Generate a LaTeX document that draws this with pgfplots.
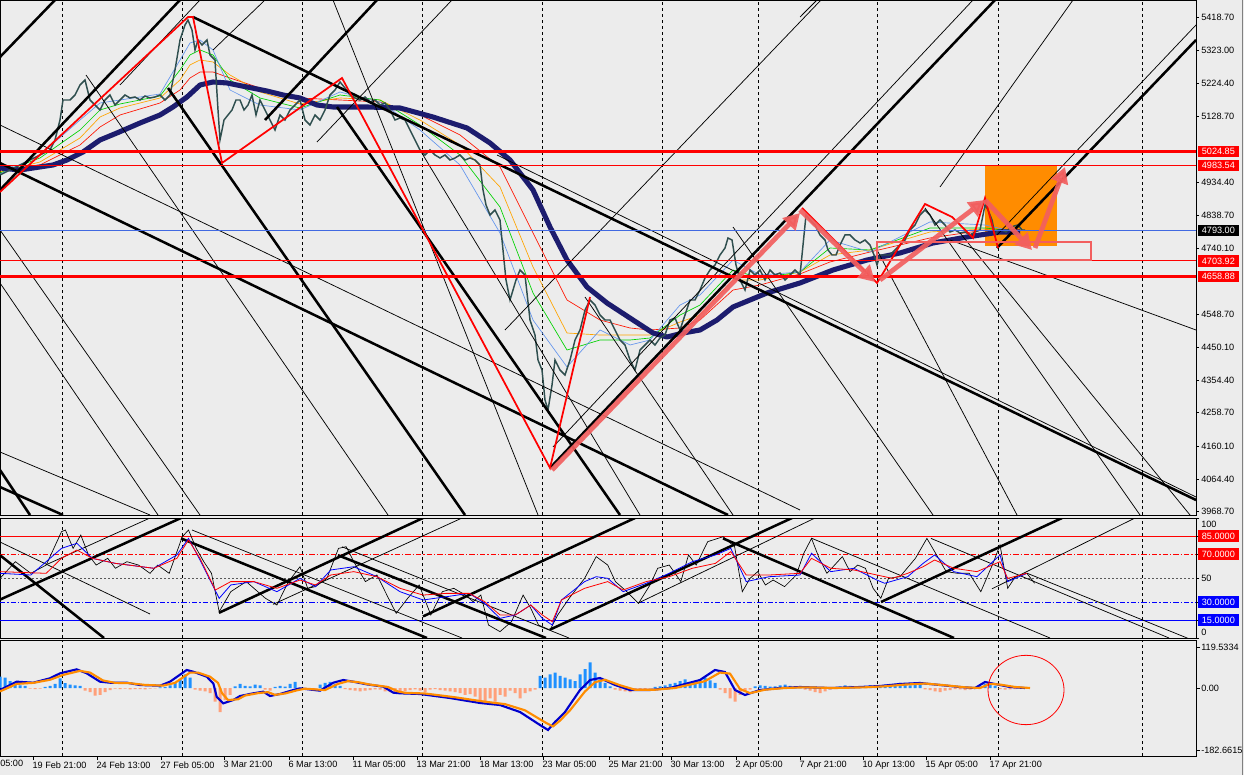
\documentclass[border=0pt]{standalone}
\usepackage{pgfplots}
\pgfplotsset{compat=1.18}
\usepackage{fontspec}
\setmainfont{Liberation Sans}
\usetikzlibrary{arrows.meta}
\definecolor{bg}{RGB}{236,236,236}
\definecolor{navy}{RGB}{28,28,110}
\definecolor{salm}{RGB}{242,95,95}
\definecolor{orng}{RGB}{255,140,0}
\definecolor{rbred}{RGB}{255,20,0}
\definecolor{rborange}{RGB}{255,165,0}
\definecolor{rbgreen}{RGB}{0,210,0}
\definecolor{rbblue}{RGB}{100,149,237}
\definecolor{pricec}{RGB}{47,79,79}
\definecolor{hline}{RGB}{65,105,225}
\definecolor{histp}{RGB}{30,144,255}
\definecolor{histn}{RGB}{255,160,122}
\definecolor{macdb}{RGB}{0,0,205}
\newcommand\lab{\fontsize{6.85}{8}\selectfont}
\tikzset{
  lbox/.style={anchor=west, fill=#1, text=white, font=\lab, inner xsep=3pt, inner ysep=1.2pt, minimum height=8.5pt, xshift=1.2pt},
  lplain/.style={anchor=west, text=black, font=\lab, inner xsep=0pt, inner ysep=0pt, xshift=3.75pt},
}
\pgfplotsset{
  thk/.style={black, line width=1.9pt, forget plot},
  thn/.style={black, line width=0.55pt, forget plot},
  grd/.style={black, line width=0.6pt, dash pattern=on 2.25pt off 2.25pt, forget plot},
  panel/.style={scale only axis, width=897pt, xmin=0, xmax=1196,
    axis background/.style={fill=bg}, clip mode=individual,
    axis line style={line width=0.7pt}, xtick=\empty,
    ytick pos=right, tick align=outside, major tick length=2.25pt,
    yticklabels={}, tick style={black, line width=0.5pt}},
}
\begin{document}
\lab
\begin{tikzpicture}
\fill[bg] (0,0) rectangle (933pt,581.25pt);
\useasboundingbox (0,0) rectangle (933pt,581.25pt);
\draw[gray, line width=0.6pt] (931.5pt,0) -- (931.5pt,581.25pt);
% ================= MAIN PRICE PANEL =================
\begin{axis}[panel, at={(0pt,581.25pt)}, anchor=north west, height=386.25pt,
  ymin=3958.9, ymax=5469.4,
  ytick={5418.70,5323.00,5224.40,5128.70,4934.40,4838.70,4740.10,4548.70,4450.10,4354.40,4258.70,4160.10,4064.40,3968.70}]
\pgfplotsinvokeforeach{62,182,302,422,542,662,758,877,998,1142}{\addplot[grd] coordinates {(#1,3958.9)(#1,5469.4)};}
% orange box
\addplot[fill=orng, draw=none, forget plot] coordinates {(985,4985.5)(1057,4985.5)(1057,4747.9)(985,4747.9)} -- cycle;
% MA ribbon
\addplot[rbred, line width=0.5pt, forget plot] coordinates {(0,4970.8)(40,4985.5)(80,5044.1)(100,5096.9)(120,5132.1)(160,5167.3)(180,5205.4)(190,5240.6)(200,5258.2)(213,5258.2)(230,5240.6)(260,5211.3)(300,5182.0)(340,5176.1)(380,5170.2)(420,5132.1)(460,5073.5)(500,4979.6)(533,4786.0)(567,4589.5)(600,4530.8)(630,4507.4)(650,4501.5)(680,4507.4)(700,4530.8)(733,4618.8)(760,4633.5)(800,4665.8)(830,4701.0)(870,4730.3)(930,4771.4)(985,4794.8)(1020,4794.8)};
\addplot[rborange, line width=0.5pt, forget plot] coordinates {(0,4964.9)(40,4994.3)(80,5064.7)(100,5126.2)(120,5152.6)(160,5182.0)(180,5234.8)(190,5278.8)(200,5293.4)(213,5287.6)(230,5249.4)(260,5199.6)(300,5164.4)(340,5182.0)(380,5176.1)(420,5117.4)(460,5044.1)(500,4921.0)(533,4686.3)(567,4492.7)(600,4486.8)(630,4486.8)(650,4486.8)(680,4524.8)(700,4545.5)(733,4648.2)(760,4648.2)(800,4671.6)(830,4721.5)(870,4736.2)(930,4789.0)(985,4797.8)(1020,4791.9)};
\addplot[rbgreen, line width=0.5pt, forget plot] coordinates {(0,4962.0)(40,5006.0)(80,5088.1)(100,5146.8)(120,5164.4)(160,5187.8)(180,5264.1)(190,5308.1)(200,5322.8)(213,5308.1)(230,5234.8)(260,5182.0)(300,5152.6)(340,5190.8)(380,5176.1)(420,5102.8)(460,5014.8)(500,4862.3)(533,4610.1)(567,4442.8)(600,4472.2)(630,4472.2)(650,4478.0)(680,4545.5)(700,4574.8)(733,4677.5)(760,4654.1)(800,4671.6)(830,4742.0)(870,4736.2)(930,4800.7)(985,4800.7)(1020,4789.0)};
\addplot[rbblue, line width=0.5pt, forget plot] coordinates {(0,4959.1)(40,5014.8)(80,5117.4)(100,5167.3)(120,5176.1)(160,5193.7)(180,5293.4)(190,5343.3)(200,5352.1)(213,5322.8)(230,5205.4)(260,5161.4)(300,5146.8)(340,5199.6)(380,5170.2)(420,5088.1)(460,4985.5)(500,4786.0)(533,4530.8)(567,4393.0)(600,4501.5)(630,4457.5)(650,4472.2)(680,4574.8)(700,4604.2)(733,4706.8)(760,4662.8)(800,4671.6)(830,4765.5)(870,4730.3)(930,4818.3)(985,4809.5)(1020,4786.0)};
% navy MA
\addplot[navy, line width=3.8pt, line join=round, forget plot] coordinates {(0,4976.7)(20,4970.8)(53,4985.5)(67,5000.1)(83,5023.6)(100,5058.8)(117,5079.4)(140,5108.6)(160,5132.1)(173,5155.6)(187,5184.9)(200,5220.1)(213,5228.9)(227,5226.0)(247,5214.2)(267,5202.5)(283,5190.8)(300,5182.0)(317,5161.4)(333,5155.6)(367,5155.6)(400,5152.6)(433,5126.2)(467,5094.0)(490,5050.0)(510,5000.1)(533,4912.2)(550,4803.6)(567,4706.8)(587,4627.6)(607,4580.7)(633,4530.8)(653,4492.7)(667,4481.0)(683,4492.7)(700,4501.5)(717,4530.8)(733,4569.0)(750,4589.5)(767,4610.1)(800,4639.4)(833,4677.5)(867,4706.8)(900,4727.4)(933,4756.7)(967,4774.3)(1000,4789.0)(1020,4789.0)};
% price
\addplot[pricec, line width=1.1pt, forget plot] coordinates {(0,4956.2)(10,4970.8)(20,4985.5)(30,5000.1)(40,5014.8)(50,5029.5)(55,5058.8)(60,5117.4)(63,5176.1)(70,5176.1)(75,5190.8)(80,5220.1)(85,5234.8)(90,5176.1)(95,5161.4)(100,5146.8)(105,5176.1)(110,5190.8)(115,5161.4)(120,5176.1)(125,5190.8)(130,5182.0)(135,5184.9)(140,5176.1)(145,5187.8)(150,5182.0)(155,5184.9)(160,5190.8)(165,5176.1)(170,5190.8)(175,5264.1)(180,5352.1)(185,5396.1)(188,5410.7)(192,5381.4)(195,5322.8)(198,5352.1)(202,5337.4)(207,5352.1)(210,5308.1)(215,5293.4)(218,5146.8)(220,5058.8)(224,5117.4)(228,5132.1)(232,5146.8)(236,5176.1)(240,5176.1)(244,5146.8)(248,5161.4)(252,5190.8)(256,5132.1)(260,5176.1)(265,5146.8)(270,5117.4)(275,5088.1)(280,5132.1)(285,5117.4)(290,5146.8)(295,5161.4)(300,5176.1)(305,5117.4)(310,5102.8)(315,5132.1)(320,5117.4)(325,5146.8)(330,5190.8)(335,5205.4)(340,5228.9)(345,5211.3)(350,5190.8)(355,5182.0)(360,5176.1)(365,5184.9)(370,5170.2)(375,5176.1)(380,5161.4)(385,5167.3)(390,5146.8)(395,5117.4)(400,5123.3)(405,5117.4)(410,5088.1)(415,5058.8)(420,5029.5)(425,5014.8)(430,5029.5)(435,5014.8)(440,5006.0)(445,5014.8)(450,5000.1)(455,5006.0)(460,5014.8)(465,5000.1)(470,5006.0)(475,5000.1)(480,4985.5)(483,4912.2)(486,4868.2)(490,4838.8)(495,4853.5)(500,4824.1)(503,4736.2)(506,4648.2)(510,4589.5)(513,4618.8)(516,4648.2)(520,4677.5)(525,4662.8)(530,4530.8)(535,4486.8)(538,4413.5)(542,4384.1)(545,4296.2)(548,4266.9)(552,4340.1)(555,4413.5)(560,4384.1)(565,4369.5)(570,4413.5)(575,4472.2)(580,4501.5)(585,4560.2)(590,4589.5)(595,4574.8)(600,4545.5)(605,4530.8)(610,4530.8)(615,4501.5)(620,4472.2)(625,4457.5)(630,4413.5)(635,4384.1)(640,4442.8)(645,4457.5)(650,4472.2)(655,4457.5)(660,4478.0)(665,4486.8)(670,4530.8)(675,4536.7)(680,4501.5)(685,4545.5)(690,4589.5)(695,4589.5)(700,4618.8)(705,4654.1)(710,4677.5)(715,4692.2)(720,4721.5)(725,4742.0)(728,4771.4)(732,4765.5)(736,4692.2)(740,4648.2)(745,4618.8)(750,4677.5)(755,4662.8)(760,4677.5)(765,4648.2)(770,4677.5)(775,4662.8)(780,4668.7)(785,4648.2)(790,4662.8)(795,4677.5)(800,4662.8)(803,4750.8)(806,4838.8)(810,4824.1)(815,4809.5)(820,4780.2)(825,4765.5)(828,4736.2)(832,4721.5)(836,4721.5)(840,4750.8)(845,4780.2)(850,4780.2)(855,4765.5)(860,4756.7)(865,4765.5)(870,4750.8)(874,4721.5)(877,4692.2)(880,4721.5)(885,4721.5)(890,4721.5)(895,4736.2)(900,4750.8)(905,4765.5)(910,4794.8)(915,4809.5)(920,4838.8)(925,4853.5)(930,4838.8)(935,4809.5)(940,4824.1)(945,4809.5)(950,4789.0)(955,4794.8)(960,4786.0)(965,4789.0)(970,4780.2)(975,4789.0)(980,4794.8)(985,4868.2)(988,4853.5)(992,4824.1)(995,4780.2)(998,4794.8)(1002,4794.8)(1006,4789.0)(1010,4800.7)(1014,4806.5)(1018,4809.5)(1022,4794.8)(1025,4794.8)};
% thick black trend lines
\addplot[thk] coordinates {(0,5302.2)(55,5469.4)};
\addplot[thk] coordinates {(0,4912.2)(180,5469.4)};
\addplot[thk] coordinates {(265,5117.4)(377,5469.4)};
\addplot[thk] coordinates {(193,5419.5)(1196,4002.9)};
\addplot[thk] coordinates {(0,4991.3)(728,3958.9)};
\addplot[thk] coordinates {(168,5211.3)(465,3958.9)};
\addplot[thk] coordinates {(337,5155.6)(620,3958.9)};
\addplot[thk] coordinates {(550,4096.8)(995,5469.4)};
\addplot[thk] coordinates {(997,4742.0)(1196,5352.1)};
\addplot[thk] coordinates {(0,4090.9)(30,3958.9)};
\addplot[thk] coordinates {(0,4041.0)(63,3958.9)};
% thin black lines
\addplot[thn] coordinates {(800,5419.5)(817,5469.4)};
\addplot[thn] coordinates {(553,4158.4)(973,5469.4)};
\addplot[thn] coordinates {(505,4501.5)(821,5469.4)};
\addplot[thn] coordinates {(317,5052.9)(452,5469.4)};
\addplot[thn] coordinates {(213,5322.8)(265,5469.4)};
\addplot[thn] coordinates {(120,5220.1)(200,5469.4)};
\addplot[thn] coordinates {(940,4921.0)(1073,5469.4)};
\addplot[thn] coordinates {(997,4780.2)(1196,5396.1)};
\addplot[thn] coordinates {(0,5102.8)(800,3973.6)};
\addplot[thn] coordinates {(0,4794.8)(200,3958.9)};
\addplot[thn] coordinates {(0,4639.4)(158,3958.9)};
\addplot[thn] coordinates {(0,4143.7)(150,3958.9)};
\addplot[thn] coordinates {(86,5249.4)(388,3958.9)};
\addplot[thn] coordinates {(333,5469.4)(538,3958.9)};
\addplot[thn] coordinates {(733,4803.6)(933,3958.9)};
\addplot[thn] coordinates {(925,4859.5)(1140,3958.9)};
\addplot[thn] coordinates {(950,4765.5)(1196,4501.5)};
\addplot[thn] coordinates {(960,4786.0)(1190,3958.9)};
\addplot[thn] coordinates {(877,4736.2)(1017,3958.9)};
\addplot[thn] coordinates {(497,5014.8)(1196,4011.7)};
\addplot[thn] coordinates {(585,4598.3)(733,3958.9)};
\addplot[thn] coordinates {(420,5029.5)(640,3958.9)};
% horizontal levels
\addplot[red, line width=1.9pt, forget plot] coordinates {(0,5024.85)(1196,5024.85)};
\addplot[red, line width=0.75pt, forget plot] coordinates {(0,4983.54)(1196,4983.54)};
\addplot[hline, line width=0.6pt, forget plot] coordinates {(0,4793.00)(1196,4793.00)};
\addplot[red, line width=0.75pt, forget plot] coordinates {(0,4703.92)(1196,4703.92)};
\addplot[red, line width=1.9pt, forget plot] coordinates {(0,4658.88)(1196,4658.88)};
% zigzag
\addplot[red, line width=1.3pt, forget plot] coordinates {(0,4906.3)(188,5419.5)(193,5419.5)(222,4991.3)(342,5240.6)(550,4096.8)(590,4598.3)};
\addplot[red, line width=1.3pt, forget plot] coordinates {(802,4859.5)(877,4639.4)(925,4871.1)(952,4833.0)(973,4771.4)(985,4888.7)(998,4742.0)};
% salmon box
\addplot[salm, line width=1.5pt, forget plot] coordinates {(877,4759.6)(1091,4759.6)(1091,4706.8)(877,4706.8)} -- cycle;
% arrows
\addplot[salm, opacity=0.92, line width=3.6pt, -{Triangle[length=12pt,width=13pt]}, forget plot] coordinates {(552,4090.9)(800,4844.7)};
\addplot[salm, opacity=0.92, line width=3.6pt, -{Triangle[length=12pt,width=13pt]}, forget plot] coordinates {(800,4853.5)(875,4642.3)};
\addplot[salm, opacity=0.92, line width=3.6pt, -{Triangle[length=12pt,width=13pt]}, forget plot] coordinates {(880,4648.2)(985,4882.8)};
\addplot[salm, opacity=0.92, line width=3.6pt, -{Triangle[length=12pt,width=13pt]}, forget plot] coordinates {(985,4882.8)(1032,4736.2)};
\addplot[salm, opacity=0.92, line width=3.6pt, -{Triangle[length=12pt,width=13pt]}, forget plot] coordinates {(1035,4742.0)(1065,4979.6)};
% right labels
\pgfplotsinvokeforeach{5418.70,5323.00,5224.40,5128.70,4934.40,4838.70,4740.10,4548.70,4450.10,4354.40,4258.70,4160.10,4064.40,3968.70}{\node[lplain] at (axis cs:1196,#1) {#1};}
\node[lbox=red] at (axis cs:1196,5024.85) {5024.85};
\node[lbox=red] at (axis cs:1196,4983.54) {4983.54};
\node[lbox=black] at (axis cs:1196,4793.00) {4793.00};
\node[lbox=red] at (axis cs:1196,4703.92) {4703.92};
\node[lbox=red] at (axis cs:1196,4658.88) {4658.88};
\end{axis}
% ================= OSCILLATOR PANEL =================
\begin{axis}[panel, at={(0pt,192.75pt)}, anchor=north west, height=90pt,
  ymin=0, ymax=100, ytick={0,15,30,50,70,85,100}]
\pgfplotsinvokeforeach{62,182,302,422,542,662,758,877,998,1142}{\addplot[grd] coordinates {(#1,0)(#1,100)};}
\addplot[red, line width=0.75pt, forget plot] coordinates {(0,85)(1196,85)};
\addplot[red, line width=0.75pt, dash pattern=on 4pt off 1.5pt on 1pt off 1.5pt, forget plot] coordinates {(0,70)(1196,70)};
\addplot[gray!70!black, line width=0.6pt, dash pattern=on 1.5pt off 1.5pt, forget plot] coordinates {(0,50)(1196,50)};
\addplot[blue, line width=0.75pt, dash pattern=on 4pt off 1.5pt on 1pt off 1.5pt, forget plot] coordinates {(0,30)(1196,30)};
\addplot[blue, line width=0.75pt, forget plot] coordinates {(0,15)(1196,15)};
% trend lines
\addplot[thk] coordinates {(0,69)(104,0)};
\addplot[thk] coordinates {(181,83)(427,0)};
\addplot[thk] coordinates {(338,69)(546,0)};
\addplot[thk] coordinates {(723,83)(954,0)};
\addplot[thk] coordinates {(0,32)(181,100)};
\addplot[thk] coordinates {(219,21)(423,100)};
\addplot[thk] coordinates {(423,18)(635,100)};
\addplot[thk] coordinates {(550,7)(792,100)};
\addplot[thk] coordinates {(881,30)(1062,100)};
\addplot[thn] coordinates {(192,90)(462,0)};
\addplot[thn] coordinates {(342,76)(569,0)};
\addplot[thn] coordinates {(812,83)(1050,0)};
\addplot[thn] coordinates {(931,83)(1169,0)};
\addplot[thn] coordinates {(1027,54)(1196,-3)};
\addplot[thn] coordinates {(0,80)(150,20)};
\addplot[thn] coordinates {(46,61)(150,100)};
\addplot[thn] coordinates {(273,28)(462,100)};
\addplot[thn] coordinates {(638,29)(815,100)};
\addplot[thn] coordinates {(992,41)(1135,100)};
% oscillator lines
\addplot[black, line width=0.5pt, forget plot] coordinates {(0,49.7)(15.4,63.6)(30.8,53.9)(46.2,60.8)(61.5,88.6)(65.4,90)(73.1,74.7)(80.8,85.8)(88.5,69.2)(96.2,60.8)(107.7,66.4)(115.4,58.1)(126.9,63.6)(138.5,60.8)(150,53.9)(157.7,60.8)(169.2,53.9)(182.3,84.4)(188.5,90)(196.2,74.7)(203.8,63.6)(211.5,53.9)(219.2,21.9)(230.8,38.6)(246.2,47)(265.4,33.1)(276.9,27.5)(288.5,47)(300,59.4)(307.7,41.4)(315.4,42.8)(326.9,49.7)(338.5,74.7)(346.2,76.1)(353.8,63.6)(365.4,47)(376.9,52.5)(388.5,33.1)(396.2,20.6)(407.7,33.1)(419.2,44.2)(430.8,19.2)(442.3,38.6)(453.8,41.4)(465.4,35.8)(473.1,30.3)(480.8,35.8)(488.5,10.8)(500,5.3)(511.5,13.6)(523.1,35.8)(530.8,24.7)(538.5,10.8)(550,6.7)(557.7,19.2)(569.2,33.1)(584.6,49.7)(596.2,67.8)(607.7,60.8)(615.4,47)(626.9,38.6)(638.5,28.9)(650,44.2)(657.7,58.1)(669.2,60.8)(680.8,47)(688.5,69.2)(696.2,60.8)(707.7,80.3)(723.1,84.4)(734.6,76.1)(742.3,38.6)(750,49.7)(757.7,55.3)(765.4,44.2)(773.1,48.3)(784.6,42.8)(796.2,52.5)(803.8,70.6)(811.5,83)(819.2,66.4)(826.9,53.9)(834.6,60.8)(842.3,67.8)(850,55.3)(857.7,60.8)(865.4,58.1)(873.1,41.4)(880.8,33.1)(888.5,49.7)(900,51.1)(915.4,66.4)(926.9,83)(934.6,72)(946.2,55.3)(957.7,53.9)(969.2,53.9)(980.8,38.6)(992.3,60.8)(1000,77.5)(1007.7,41.4)(1015.4,51.1)(1026.9,53.9)(1034.6,45.6)};
\addplot[blue, line width=0.6pt, forget plot] coordinates {(0,53.9)(30.8,52.5)(61.5,74.7)(76.9,78.9)(92.3,66.4)(115.4,62.2)(153.8,58.1)(176.9,69.2)(188.5,83)(200,65)(219.2,33.1)(230.8,44.2)(253.8,47)(276.9,38.6)(300,49.7)(315.4,42.8)(330.8,56.7)(353.8,59.4)(376.9,51.1)(400,38.6)(423.1,31.7)(446.2,34.4)(469.2,37.2)(484.6,28.9)(500,16.4)(515.4,19.2)(530.8,27.5)(542.3,16.4)(552.3,10.8)(561.5,31.7)(584.6,47)(596.2,51.1)(607.7,49.7)(623.1,38.6)(646.2,45.6)(669.2,53.9)(692.3,63.6)(715.4,69.2)(730.8,74.7)(746.2,47)(769.2,51.1)(800,52.5)(811.5,70.6)(830.8,55.3)(853.8,58.1)(876.9,48.3)(884.6,45.6)(907.7,51.1)(923.1,62.2)(934.6,69.2)(953.8,55.3)(976.9,51.1)(1000,69.2)(1007.7,47)(1026.9,53.9)};
\addplot[red, line width=0.6pt, forget plot] coordinates {(0,55.3)(46.2,53.9)(61.5,66.4)(76.9,73.3)(92.3,66.4)(115.4,62.2)(153.8,58.1)(176.9,66.4)(188.5,81.7)(200,66.4)(215.4,40)(230.8,47)(253.8,47)(276.9,41.4)(300,48.3)(315.4,44.2)(330.8,52.5)(353.8,55.3)(376.9,51.1)(400,41.4)(423.1,35.8)(446.2,37.2)(469.2,37.2)(484.6,30.3)(500,19.2)(515.4,19.2)(530.8,27.5)(542.3,19.2)(552.3,13.6)(561.5,31.7)(584.6,41.4)(607.7,47)(623.1,40)(646.2,47)(669.2,51.1)(692.3,58.1)(715.4,62.2)(730.8,72)(746.2,52.5)(769.2,52.5)(800,53.9)(811.5,66.4)(830.8,58.1)(853.8,56.7)(876.9,52.5)(892.3,49.7)(907.7,53.9)(923.1,59.4)(934.6,65)(953.8,58.1)(976.9,55.3)(1000,63.6)(1007.7,49.7)(1026.9,53.9)};
% labels
\node[lplain] at (axis cs:1196,95) {100};
\node[lbox=red] at (axis cs:1196,85) {85.0000};
\node[lbox=red] at (axis cs:1196,70) {70.0000};
\node[lplain] at (axis cs:1196,50) {50};
\node[lbox=blue] at (axis cs:1196,30) {30.0000};
\node[lbox=blue] at (axis cs:1196,15) {15.0000};
\node[lplain] at (axis cs:1196,5) {0};
\end{axis}
% ================= MACD PANEL =================
\begin{axis}[panel, at={(0pt,101.25pt)}, anchor=north west, height=87pt,
  ymin=-198.25, ymax=139.94, ytick={119.5334,0,-182.6615},
  xtick={33,97,161,224,289,353,417,480,543,609,671,736,800,863,926,990},
  xticklabels={19 Feb 21:00,24 Feb 13:00,27 Feb 05:00,3 Mar 21:00,6 Mar 13:00,11 Mar 05:00,13 Mar 21:00,18 Mar 13:00,23 Mar 05:00,25 Mar 21:00,30 Mar 13:00,2 Apr 05:00,7 Apr 21:00,10 Apr 13:00,15 Apr 05:00,17 Apr 21:00},
  xtick pos=bottom, major tick length=3pt,
  xticklabel style={anchor=north west, inner sep=0pt, xshift=-0.5pt, yshift=-1pt, font=\lab}]
\pgfplotsinvokeforeach{62,182,302,422,542,662,758,877,998,1142}{\addplot[grd] coordinates {(#1,-198.25)(#1,139.94)};}
\addplot[ybar, bar width=3, bar shift=0pt, fill=histp, draw=none, forget plot] coordinates {(0,33)(5,30)(10,20)(15,12)(20,8)(25,6)(45,3)(50,6)(55,12)(60,28)(65,14)(70,10)(75,8)(80,6)(160,2)(165,3)(170,8)(175,14)(180,25)(185,40)(190,30)(235,5)(240,12)(245,6)(250,5)(255,10)(260,8)(275,3)(280,6)(285,4)(290,12)(295,18)(320,10)(325,15)(330,18)(335,12)(340,6)(540,35)(545,30)(550,40)(555,45)(560,35)(565,30)(570,25)(575,20)(580,40)(585,55)(590,75)(595,45)(600,25)(605,15)(610,5)(655,3)(660,5)(665,8)(670,12)(675,15)(680,20)(685,25)(690,18)(695,20)(700,25)(705,30)(710,22)(715,15)(755,5)(760,8)(765,6)(770,4)(775,5)(780,8)(785,10)(790,6)(795,4)(800,3)(840,5)(845,8)(850,6)(855,4)(860,3)(865,5)(870,8)(875,6)(880,4)(885,10)(890,8)(895,12)(900,15)(905,10)(910,8)(915,12)(920,10)(980,5)(985,12)(990,10)(995,6)};
\addplot[ybar, bar width=3, bar shift=0pt, fill=histn, draw=none, forget plot] coordinates {(30,-2)(35,-3)(40,-2)(85,-8)(90,-12)(95,-22)(100,-20)(105,-12)(110,-6)(115,-2)(120,-3)(125,-2)(130,-4)(135,-3)(140,-3)(145,-4)(150,-2)(155,-1)(195,-5)(200,-8)(205,-10)(210,-15)(215,-40)(220,-70)(225,-35)(230,-20)(265,-5)(270,-8)(300,-3)(305,-3)(310,-2)(315,-3)(345,-3)(350,-6)(355,-8)(360,-10)(365,-8)(370,-6)(375,-4)(380,-5)(385,-10)(390,-12)(395,-14)(400,-12)(405,-10)(410,-6)(415,-4)(420,-8)(425,-12)(430,-5)(435,-3)(440,-6)(445,-8)(450,-10)(455,-12)(460,-15)(465,-20)(470,-18)(475,-25)(480,-35)(485,-45)(490,-30)(495,-40)(500,-20)(505,-25)(510,-8)(515,-15)(520,-30)(525,-15)(530,-10)(535,-5)(615,-5)(620,-8)(625,-10)(630,-12)(635,-8)(640,-5)(645,-3)(650,-2)(720,-5)(725,-15)(730,-30)(735,-40)(740,-20)(745,-10)(750,-5)(805,-5)(810,-8)(815,-12)(820,-15)(825,-10)(830,-5)(835,-3)(925,-4)(930,-6)(935,-10)(940,-12)(945,-8)(950,-6)(955,-3)(960,-4)(965,-6)(970,-5)(975,-3)(1000,-3)(1005,-5)(1010,-4)(1015,-3)(1020,-2)(1025,-1)};
\addplot[macdb, line width=1.6pt, forget plot] coordinates {(0,-5.8)(16.7,18.4)(33.3,15.5)(50,28.3)(60,42.8)(76.7,54.4)(86.7,42.8)(100,18.4)(110,15.5)(126.7,15.5)(140,8.7)(160,6.7)(170,18.4)(186.7,52.5)(193.3,47.5)(206.7,33)(213.3,13.6)(216.7,-25.4)(223.3,-44.7)(233.3,-35)(240,-23.3)(253.3,-15.5)(263.3,-10.7)(270,-23.3)(280,-17.5)(293.3,-5.8)(300,-1)(320,-7.8)(333.3,15.5)(343.3,23.3)(353.3,18.4)(366.7,10.7)(383.3,3.9)(393.3,-13.6)(400,-15.5)(420,-17.5)(450,-29.2)(480,-43.7)(500,-49.6)(520,-70)(540,-107.9)(548,-122.4)(555,-99.1)(565,-70)(580,-5.8)(590,23.3)(600,29.2)(615,8.7)(630,-5.8)(650,-5.8)(670,0)(700,23.3)(715,52.5)(725,46.6)(735,-5.8)(745,-20.4)(760,-5.8)(780,0)(800,2.9)(830,0)(860,2.9)(880,5.8)(900,11.7)(920,14.6)(940,8.7)(960,2.9)(975,0)(985,17.5)(995,11.7)(1010,2.9)(1025,0)};
\addplot[orng, line width=1.6pt, forget plot] coordinates {(0,-10)(16.7,12)(33.3,15)(50,24)(63,38)(80,50)(90,45)(103,22)(115,15)(130,14)(145,9)(163,7)(175,15)(190,45)(198,45)(210,33)(218,15)(222,-15)(228,-35)(238,-33)(245,-22)(258,-15)(268,-12)(275,-20)(285,-16)(298,-6)(305,-2)(325,-6)(338,12)(348,20)(358,17)(370,10)(388,3)(398,-10)(405,-14)(425,-16)(455,-27)(485,-40)(505,-47)(525,-65)(545,-100)(553,-112)(560,-95)(570,-65)(585,-10)(595,17)(605,24)(620,8)(635,-5)(655,-5)(675,0)(705,20)(720,45)(730,42)(740,-3)(750,-15)(765,-5)(785,0)(805,2)(835,0)(865,2)(885,5)(905,10)(925,13)(945,8)(965,2)(980,0)(990,12)(1000,10)(1015,3)(1030,0)};
\draw[red, line width=0.6pt] (axis cs:1026,-5.8) ellipse [x radius=28.5pt, y radius=26pt];
\node[lplain] at (axis cs:1196,119.5334) {119.5334};
\node[lplain] at (axis cs:1196,0) {0.00};
\node[lplain] at (axis cs:1196,-182.6615) {-182.6615};
\node[anchor=north west, inner sep=0pt, font=\lab, yshift=-3.25pt] at (axis cs:0,-198.25) {05:00};
\end{axis}
\end{tikzpicture}
\end{document}
